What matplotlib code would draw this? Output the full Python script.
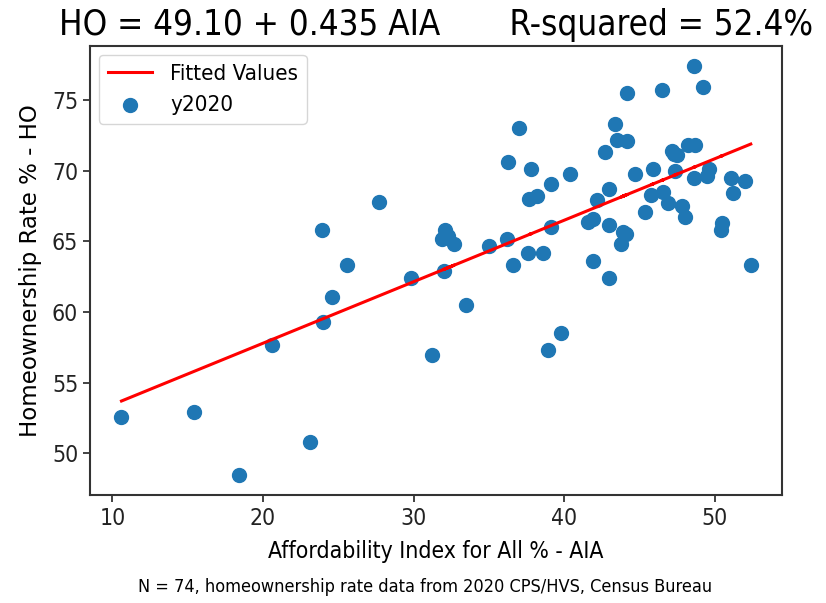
import matplotlib
matplotlib.use("Agg")
import matplotlib.pyplot as plt
import numpy as np

# affordability index (AIA) and homeownership rate (HO)
aia = [10.6, 15.4, 18.4, 20.6, 23.1, 23.9, 24.0, 24.6, 25.6, 27.7,
       29.8, 31.2, 31.9, 32.1, 32.7, 32.0, 32.3, 33.5, 35.0, 36.2,
       36.3, 36.6, 37.0, 37.6, 37.8, 37.7, 38.2, 38.6, 38.9, 39.1,
       39.1, 39.8, 40.4, 41.6, 41.9, 41.9, 42.2, 42.7, 43.0, 43.0,
       43.0, 43.4, 43.5, 44.2, 44.2, 43.9, 44.1, 43.8, 44.7, 45.4,
       45.9, 45.8, 46.6, 46.5, 46.9, 47.2, 47.4, 47.5, 47.3, 47.8,
       48.0, 48.2, 48.7, 48.6, 48.6, 49.2, 49.5, 49.6, 50.5, 50.4,
       51.1, 51.2, 52.0, 52.4]
ho = [52.6, 52.9, 48.5, 57.7, 50.8, 65.8, 59.3, 61.1, 63.3, 67.8,
      62.4, 57.0, 65.2, 65.8, 64.8, 62.9, 65.4, 60.5, 64.7, 65.2,
      70.6, 63.3, 73.0, 64.2, 70.1, 68.0, 68.2, 64.2, 57.3, 69.1,
      66.0, 58.5, 69.8, 66.4, 66.6, 63.6, 67.9, 71.3, 68.7, 66.2,
      62.4, 73.3, 72.2, 72.1, 75.5, 65.7, 65.5, 64.8, 69.8, 67.1,
      70.1, 68.3, 68.5, 75.7, 67.7, 71.4, 70.0, 71.1, 71.2, 67.5,
      66.7, 71.8, 71.8, 77.4, 69.5, 75.9, 69.6, 70.1, 66.3, 65.8,
      69.5, 68.4, 69.3, 63.3]

intercept = 49.10
slope = 0.435
r_squared = 52.4

x = np.array(aia)
y = np.array(ho)
fitted = intercept + slope * x

plt.rcParams['font.family'] = ['DejaVu Sans']
plt.rcParams['font.stretch'] = 'condensed'

fig = plt.figure(figsize=(8.26, 6.03), dpi=100)
ax = fig.add_axes([0.109, 0.179, 0.838, 0.745])

ax.plot(x, fitted, color='red', lw=2.2, label='Fitted Values')
ax.scatter(x, y, s=100, color='#1f77b4', label='y2020')

ax.set_title("HO = %.2f + %.3f AIA       R-squared = %.1f%%" % (intercept, slope, r_squared),
             fontsize=25, pad=8)
ax.set_xlabel("Affordability Index for All % - AIA", fontsize=16.5, labelpad=7)
ax.set_ylabel("Homeownership Rate % - HO", fontsize=16.5, labelpad=7,
              fontstretch='normal')
ax.set_xticks([10, 20, 30, 40, 50])
ax.set_yticks([50, 55, 60, 65, 70, 75])
ax.tick_params(labelsize=16.5, length=5, width=1.2, colors='#222222')
for sp in ax.spines.values():
    sp.set_linewidth(1.5)
    sp.set_color('#333333')

ax.legend(loc='upper left', fontsize=16, scatterpoints=1, handlelength=2.0,
          borderaxespad=0.4)

fig.text(0.515, 0.012, "N = 74, homeownership rate data from 2020 CPS/HVS, Census Bureau",
         ha='center', va='bottom', fontsize=13)

fig.savefig("out.png", dpi=100)
